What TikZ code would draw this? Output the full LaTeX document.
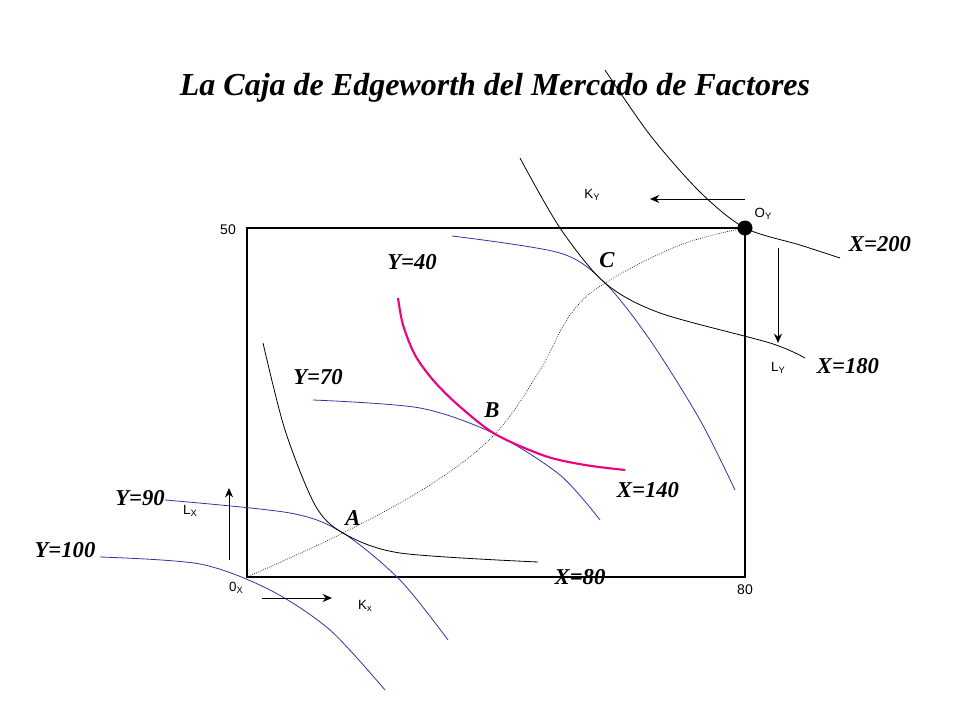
\documentclass[tikz,border=0pt]{standalone}
\usepackage{fontspec}
\usetikzlibrary{arrows.meta}
\setmainfont{Liberation Serif}
\newfontfamily\arialf{Liberation Sans}
\newcommand{\subx}[1]{\raisebox{-0.35ex}{\fontsize{7}{8}\selectfont #1}}
\begin{document}
\begin{tikzpicture}[x=0.75pt,y=-0.75pt,
  lbl/.style={font=\bfseries\itshape\fontsize{17}{19}\selectfont},
  sm/.style={font=\arialf\fontsize{10}{11}\selectfont},
  bcurve/.style={draw=blue!55!black!80, line width=0.6pt},
  kcurve/.style={draw=black, line width=0.6pt},
  arr/.style={-{Stealth[length=7pt,width=6pt]}, line width=0.6pt}]
\useasboundingbox (0,0) rectangle (960,720);
\node[font=\bfseries\itshape\fontsize{24}{28}\selectfont] (title) at (495,88) {La Caja de Edgeworth del Mercado de Factores};
\draw[line width=1.5pt] (247,228) rectangle (745,577);
\coordinate (OX) at (247,577);
\coordinate (OY) at (745,228);
\coordinate (A) at (343,533);
\coordinate (B) at (495,434);
\coordinate (C) at (605,283);
\draw[densely dotted, line width=0.5pt] plot[smooth, tension=0.6] coordinates {(247,577) (343,533) (430,485) (495,434) (540,370) (570,315) (605,283) (680,245) (745,228)};
\draw[bcurve] plot[smooth] coordinates {(100,557) (200,564) (270,590) (330,630) (385,690)};
\draw[bcurve] plot[smooth] coordinates {(165,500) (290,513) (343,533) (400,580) (448,640)};
\draw[kcurve] plot[smooth] coordinates {(263,343) (285,430) (315,505) (343,533) (400,553) (538,562)};
\draw[bcurve] plot[smooth] coordinates {(313,400) (420,408) (495,434) (560,475) (600,520)};
\draw[magenta!85!red, line width=1.6pt] plot[smooth] coordinates {(398,298) (403,325) (415,355) (433,380) (458,405) (495,434) (545,456) (585,465) (625,470)};
\draw[bcurve] plot[smooth] coordinates {(452,236) (560,253) (605,283) (650,340) (700,420) (735,490)};
\draw[kcurve] plot[smooth] coordinates {(520,158) (560,228) (605,283) (660,313) (770,343) (805,358)};
\draw[kcurve] plot[smooth] coordinates {(605,70) (650,135) (700,192) (745,228) (800,245) (840,258)};
\fill (OY) circle (7.5);
\coordinate (ky1) at (745,199); \coordinate (ky2) at (650,199);
\draw[arr] (ky1) -- (ky2);
\coordinate (ly1) at (778,248); \coordinate (ly2) at (778,343);
\draw[arr] (ly1) -- (ly2);
\coordinate (lx1) at (229,560); \coordinate (lx2) at (229,488);
\draw[arr] (lx1) -- (lx2);
\coordinate (kx1) at (262,598); \coordinate (kx2) at (332,598);
\draw[arr] (kx1) -- (kx2);
\node[sm] (kY) at (592,195) {K\subx{Y}};
\node[sm] (oY) at (763,214) {O\subx{Y}};
\node[sm] (lY) at (778,368) {L\subx{Y}};
\node[sm] (lX) at (190,511) {L\subx{X}};
\node[sm] (oX) at (236,588) {0\subx{X}};
\node[sm] (kX) at (365,606) {K\subx{x}};
\node[sm,font=\arialf\fontsize{10.5}{12}\selectfont] (n50) at (228,230) {50};
\node[sm,font=\arialf\fontsize{10.5}{12}\selectfont] (n80) at (745,590) {80};
\node[lbl] (l40) at (412,262) {Y=40};
\node[lbl] (lC) at (607,260) {C};
\node[lbl] (l70) at (318,377) {Y=70};
\node[lbl] (lB) at (492,410) {B};
\node[lbl] (l140) at (648,490) {X=140};
\node[lbl] (l90) at (140,498) {Y=90};
\node[lbl] (lA) at (353,518) {A};
\node[lbl] (l100) at (65,550) {Y=100};
\node[lbl] (l80) at (580,577) {X=80};
\node[lbl] (l180) at (848,366) {X=180};
\node[lbl] (l200) at (880,244) {X=200};
\end{tikzpicture}
\end{document}
